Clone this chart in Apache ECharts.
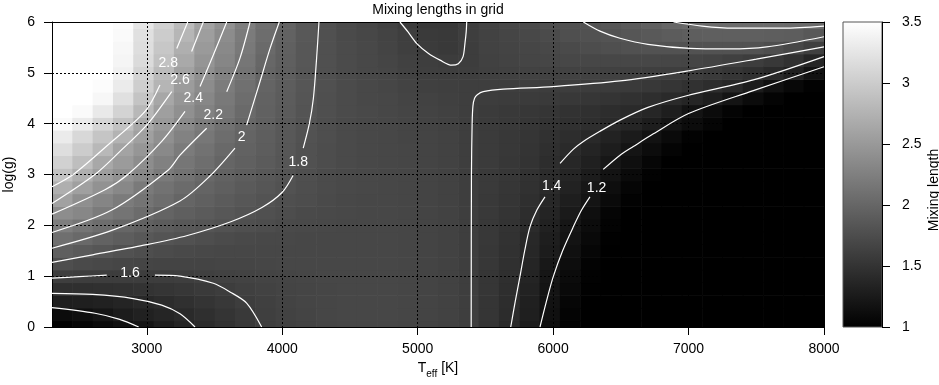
<!DOCTYPE html>
<html>
<head>
<meta charset="utf-8">
<script src="https://cdn.jsdelivr.net/npm/echarts@6/dist/echarts.min.js"></script>
<style>
  html, body { margin: 0; padding: 0; background: #fff; }
  #chart { width: 939px; height: 385px; }
</style>
</head>
<body>
<div id="chart"></div>
<script>
// cell centres of the mixing length grid
const teff = [2375, 2525, 2675, 2825, 2975, 3125, 3275, 3425, 3575, 3725, 3875, 4025, 4175,
  4325, 4475, 4625, 4775, 4925, 5075, 5225, 5375, 5525, 5675, 5825, 5975, 6125, 6275,
  6425, 6575, 6725, 6875, 7025, 7175, 7325, 7475, 7625, 7775, 7925]
const logg = [0, 0.25, 0.5, 0.75, 1, 1.25, 1.5, 1.75, 2, 2.25, 2.5, 2.75, 3,
  3.25, 3.5, 3.75, 4, 4.25, 4.5, 4.75, 5, 5.25, 5.5, 5.75, 6]

// mixing length per row of log g
const g000 = [1.02, 1.06, 1.11, 1.16, 1.21, 1.29, 1.36, 1.43, 1.49, 1.55, 1.61, 1.64, 1.66, 1.68, 1.69, 1.69, 1.69, 1.68, 1.66, 1.64, 1.61, 1.51, 1.41, 1.27, 1.14, 1.02, 1.0, 1.0, 1.0, 1.0, 1.0, 1.0, 1.0, 1.0, 1.0, 1.0, 1.0, 1.0]
const g025 = [1.12, 1.15, 1.21, 1.27, 1.32, 1.36, 1.41, 1.46, 1.51, 1.56, 1.62, 1.65, 1.67, 1.69, 1.70, 1.70, 1.70, 1.69, 1.67, 1.65, 1.61, 1.52, 1.43, 1.30, 1.16, 1.04, 1.0, 1.0, 1.0, 1.0, 1.0, 1.0, 1.0, 1.0, 1.0, 1.0, 1.0, 1.0]
const g050 = [1.29, 1.30, 1.32, 1.35, 1.39, 1.43, 1.47, 1.51, 1.55, 1.60, 1.63, 1.66, 1.68, 1.69, 1.70, 1.70, 1.70, 1.69, 1.67, 1.65, 1.61, 1.52, 1.44, 1.31, 1.18, 1.06, 1.0, 1.0, 1.0, 1.0, 1.0, 1.0, 1.0, 1.0, 1.0, 1.0, 1.0, 1.0]
const g075 = [1.46, 1.46, 1.47, 1.48, 1.50, 1.52, 1.54, 1.57, 1.60, 1.63, 1.65, 1.67, 1.68, 1.69, 1.70, 1.70, 1.70, 1.69, 1.67, 1.65, 1.61, 1.53, 1.45, 1.33, 1.20, 1.09, 1.01, 1.0, 1.0, 1.0, 1.0, 1.0, 1.0, 1.0, 1.0, 1.0, 1.0, 1.0]
const g100 = [1.61, 1.60, 1.60, 1.60, 1.60, 1.60, 1.61, 1.63, 1.65, 1.66, 1.67, 1.68, 1.69, 1.70, 1.70, 1.70, 1.70, 1.69, 1.67, 1.65, 1.61, 1.53, 1.46, 1.35, 1.22, 1.11, 1.02, 1.0, 1.0, 1.0, 1.0, 1.0, 1.0, 1.0, 1.0, 1.0, 1.0, 1.0]
const g125 = [1.76, 1.73, 1.71, 1.69, 1.68, 1.67, 1.67, 1.67, 1.68, 1.68, 1.69, 1.70, 1.70, 1.70, 1.70, 1.70, 1.70, 1.69, 1.67, 1.65, 1.61, 1.54, 1.47, 1.36, 1.24, 1.13, 1.03, 1.0, 1.0, 1.0, 1.0, 1.0, 1.0, 1.0, 1.0, 1.0, 1.0, 1.0]
const g150 = [1.93, 1.88, 1.84, 1.79, 1.76, 1.74, 1.72, 1.71, 1.70, 1.70, 1.70, 1.70, 1.70, 1.70, 1.70, 1.70, 1.70, 1.69, 1.67, 1.65, 1.61, 1.54, 1.48, 1.38, 1.27, 1.16, 1.06, 1.0, 1.0, 1.0, 1.0, 1.0, 1.0, 1.0, 1.0, 1.0, 1.0, 1.0]
const g175 = [2.09, 2.03, 1.96, 1.91, 1.86, 1.82, 1.79, 1.76, 1.74, 1.72, 1.71, 1.71, 1.70, 1.70, 1.70, 1.70, 1.70, 1.69, 1.67, 1.65, 1.61, 1.55, 1.49, 1.39, 1.29, 1.19, 1.09, 1.01, 1.0, 1.0, 1.0, 1.0, 1.0, 1.0, 1.0, 1.0, 1.0, 1.0]
const g200 = [2.24, 2.15, 2.07, 2.00, 1.95, 1.90, 1.86, 1.83, 1.80, 1.77, 1.75, 1.73, 1.72, 1.71, 1.70, 1.70, 1.70, 1.69, 1.67, 1.65, 1.61, 1.55, 1.50, 1.42, 1.32, 1.22, 1.12, 1.03, 1.0, 1.0, 1.0, 1.0, 1.0, 1.0, 1.0, 1.0, 1.0, 1.0]
const g225 = [2.38, 2.32, 2.21, 2.14, 2.06, 1.98, 1.93, 1.89, 1.85, 1.81, 1.78, 1.75, 1.73, 1.72, 1.71, 1.70, 1.70, 1.69, 1.67, 1.65, 1.61, 1.56, 1.51, 1.44, 1.35, 1.25, 1.15, 1.05, 1.0, 1.0, 1.0, 1.0, 1.0, 1.0, 1.0, 1.0, 1.0, 1.0]
const g250 = [2.58, 2.40, 2.30, 2.21, 2.14, 2.07, 1.99, 1.94, 1.89, 1.85, 1.81, 1.77, 1.75, 1.73, 1.71, 1.70, 1.70, 1.69, 1.67, 1.65, 1.61, 1.56, 1.52, 1.46, 1.38, 1.29, 1.20, 1.10, 1.02, 1.0, 1.0, 1.0, 1.0, 1.0, 1.0, 1.0, 1.0, 1.0]
const g275 = [2.72, 2.57, 2.43, 2.33, 2.20, 2.12, 2.05, 1.98, 1.93, 1.88, 1.84, 1.80, 1.76, 1.74, 1.72, 1.71, 1.70, 1.69, 1.67, 1.65, 1.61, 1.57, 1.53, 1.48, 1.41, 1.33, 1.23, 1.14, 1.05, 1.0, 1.0, 1.0, 1.0, 1.0, 1.0, 1.0, 1.0, 1.0]
const g300 = [2.90, 2.72, 2.55, 2.43, 2.33, 2.20, 2.12, 2.03, 1.96, 1.91, 1.86, 1.82, 1.77, 1.74, 1.72, 1.71, 1.70, 1.69, 1.67, 1.65, 1.61, 1.57, 1.54, 1.49, 1.43, 1.36, 1.27, 1.19, 1.10, 1.02, 1.0, 1.0, 1.0, 1.0, 1.0, 1.0, 1.0, 1.0]
const g325 = [3.05, 2.86, 2.65, 2.52, 2.38, 2.26, 2.16, 2.08, 1.99, 1.94, 1.89, 1.84, 1.79, 1.75, 1.73, 1.71, 1.70, 1.69, 1.67, 1.65, 1.61, 1.58, 1.54, 1.50, 1.44, 1.38, 1.31, 1.23, 1.15, 1.06, 1.0, 1.0, 1.0, 1.0, 1.0, 1.0, 1.0, 1.0]
const g350 = [3.18, 3.00, 2.80, 2.60, 2.47, 2.34, 2.21, 2.12, 2.03, 1.96, 1.91, 1.85, 1.79, 1.75, 1.73, 1.71, 1.70, 1.69, 1.67, 1.65, 1.61, 1.58, 1.55, 1.51, 1.46, 1.41, 1.35, 1.28, 1.20, 1.12, 1.04, 1.0, 1.0, 1.0, 1.0, 1.0, 1.0, 1.0]
const g375 = [3.30, 3.12, 2.93, 2.75, 2.57, 2.41, 2.27, 2.17, 2.07, 1.98, 1.92, 1.86, 1.80, 1.76, 1.73, 1.71, 1.70, 1.68, 1.67, 1.65, 1.61, 1.58, 1.55, 1.52, 1.48, 1.44, 1.40, 1.33, 1.26, 1.18, 1.10, 1.02, 1.0, 1.0, 1.0, 1.0, 1.0, 1.0]
const g400 = [3.45, 3.30, 3.10, 2.90, 2.66, 2.50, 2.34, 2.22, 2.11, 2.01, 1.94, 1.87, 1.81, 1.76, 1.73, 1.71, 1.70, 1.68, 1.66, 1.64, 1.61, 1.58, 1.56, 1.53, 1.50, 1.47, 1.45, 1.41, 1.36, 1.28, 1.20, 1.12, 1.05, 1.0, 1.0, 1.0, 1.0, 1.0]
const g425 = [3.50, 3.45, 3.28, 3.07, 2.80, 2.56, 2.41, 2.27, 2.16, 2.04, 1.95, 1.89, 1.82, 1.77, 1.74, 1.72, 1.70, 1.68, 1.66, 1.64, 1.61, 1.58, 1.56, 1.54, 1.52, 1.49, 1.47, 1.44, 1.41, 1.37, 1.29, 1.19, 1.11, 1.04, 1.0, 1.0, 1.0, 1.0]
const g450 = [3.50, 3.50, 3.42, 3.20, 2.92, 2.64, 2.47, 2.32, 2.19, 2.07, 1.96, 1.90, 1.83, 1.77, 1.74, 1.71, 1.70, 1.67, 1.65, 1.63, 1.61, 1.60, 1.59, 1.58, 1.57, 1.55, 1.53, 1.51, 1.48, 1.45, 1.41, 1.36, 1.29, 1.20, 1.11, 1.04, 1.0, 1.0]
const g475 = [3.50, 3.50, 3.47, 3.30, 3.02, 2.77, 2.53, 2.37, 2.22, 2.10, 1.98, 1.91, 1.84, 1.78, 1.74, 1.71, 1.69, 1.66, 1.63, 1.62, 1.61, 1.61, 1.61, 1.61, 1.60, 1.60, 1.59, 1.58, 1.57, 1.55, 1.52, 1.48, 1.44, 1.39, 1.27, 1.16, 1.08, 1.02]
const g500 = [3.50, 3.50, 3.50, 3.36, 3.08, 2.83, 2.59, 2.41, 2.26, 2.13, 1.99, 1.92, 1.84, 1.78, 1.74, 1.71, 1.69, 1.65, 1.62, 1.61, 1.61, 1.63, 1.64, 1.65, 1.65, 1.65, 1.65, 1.64, 1.63, 1.62, 1.61, 1.60, 1.57, 1.52, 1.47, 1.41, 1.31, 1.17]
const g525 = [3.50, 3.50, 3.50, 3.40, 3.15, 2.90, 2.66, 2.46, 2.31, 2.16, 2.01, 1.93, 1.85, 1.78, 1.74, 1.71, 1.68, 1.64, 1.61, 1.59, 1.60, 1.64, 1.66, 1.68, 1.69, 1.70, 1.70, 1.70, 1.70, 1.70, 1.69, 1.68, 1.66, 1.63, 1.60, 1.55, 1.48, 1.36]
const g550 = [3.50, 3.50, 3.50, 3.42, 3.18, 2.95, 2.72, 2.51, 2.34, 2.19, 2.04, 1.94, 1.85, 1.78, 1.74, 1.71, 1.67, 1.62, 1.58, 1.56, 1.60, 1.65, 1.67, 1.69, 1.71, 1.73, 1.75, 1.77, 1.79, 1.80, 1.80, 1.80, 1.80, 1.80, 1.80, 1.76, 1.70, 1.62]
const g575 = [3.50, 3.50, 3.50, 3.45, 3.20, 3.00, 2.78, 2.55, 2.37, 2.21, 2.07, 1.96, 1.86, 1.78, 1.73, 1.70, 1.66, 1.61, 1.57, 1.56, 1.61, 1.65, 1.68, 1.71, 1.74, 1.77, 1.79, 1.81, 1.84, 1.87, 1.90, 1.92, 1.93, 1.93, 1.93, 1.92, 1.91, 1.86]
const g600 = [3.50, 3.50, 3.50, 3.47, 3.25, 3.05, 2.83, 2.59, 2.42, 2.24, 2.09, 1.97, 1.86, 1.78, 1.73, 1.69, 1.64, 1.58, 1.55, 1.55, 1.61, 1.66, 1.70, 1.73, 1.76, 1.78, 1.81, 1.84, 1.88, 1.94, 2.00, 2.03, 2.04, 2.05, 2.05, 2.05, 2.04, 2.03]
const rows = [g000, g025, g050, g075, g100, g125, g150, g175, g200, g225, g250, g275, g300,
  g325, g350, g375, g400, g425, g450, g475, g500, g525, g550, g575, g600]

// contour lines [Teff, log g], split where a label sits
const c28a = [[2300, 2.76], [2457, 3.0], [2700, 3.55], [2987, 4.24], [3097, 4.76]]
const c28b = [[3221, 5.48], [3302, 6]]
const c26a = [[2300, 2.43], [2617, 3.0], [2800, 3.45], [2999, 3.97], [3184, 4.63]]
const c26b = [[3331, 5.42], [3417, 6]]
const c24a = [[2300, 2.22], [2691, 2.7], [2860, 3.0], [3110, 3.65], [3282, 4.24]]
const c24b = [[3393, 4.73], [3491, 5.35], [3590, 6]]
const c22a = [[2300, 1.86], [2741, 2.30], [3159, 3.09], [3245, 3.38], [3442, 3.91]]
const c22b = [[3590, 4.63], [3688, 5.29], [3762, 6]]
const c20a = [[2300, 1.55], [2741, 1.9], [3245, 2.48], [3466, 2.97], [3651, 3.52]]
const c20b = [[3737, 3.97], [3836, 4.83], [3910, 5.48], [3978, 6]]
const c18a = [[2300, 1.27], [2600, 1.42], [3000, 1.62], [3300, 1.8], [3620, 2.07], [3850, 2.35], [4000, 2.65], [4080, 2.98]]
const c18b = [[4155, 3.52], [4200, 4.0], [4230, 4.5], [4254, 5.3], [4271, 6]]
const c16a = [[2300, 0.96], [2500, 0.99], [2704, 1.02]]
const c16b = [[3060, 1.02], [3245, 1.0], [3491, 0.86], [3614, 0.69], [3737, 0.47], [3848, 0]]
const c14a = [[2300, 0.66], [2600, 0.64], [2900, 0.56], [3110, 0.43], [3245, 0.26], [3356, 0]]
const c12a = [[2300, 0.38], [2617, 0.27], [2800, 0.15], [2940, 0]]
const c16u = [[4869, 6], [4930, 5.8], [4992, 5.58], [5080, 5.38], [5165, 5.25], [5251, 5.15], [5300, 5.18], [5335, 5.32], [5349, 5.58], [5358, 5.8], [5362, 6]]
const c16v = [[5395, 0], [5397, 3], [5402, 4.0], [5408, 4.35], [5420, 4.5], [5440, 4.57], [5484, 4.63], [5632, 4.68], [6001, 4.73], [6494, 4.84], [7000, 5.04], [7500, 5.27], [8000, 5.51]]
const c18r = [[6223, 6], [6346, 5.82], [6494, 5.68], [6700, 5.56], [7011, 5.48], [7300, 5.47], [7577, 5.51], [8000, 5.71]]
const c20r = [[6889, 6], [7100, 5.92], [7332, 5.88], [7700, 5.88], [8000, 5.92]]
const c14ra = [[5687, 0], [5720, 0.5], [5755, 0.99], [5790, 1.5], [5829, 1.97], [5880, 2.3], [5940, 2.56]]
const c14rb = [[6051, 3.22], [6150, 3.5], [6223, 3.65], [6346, 3.85], [6494, 4.07], [6700, 4.32], [6986, 4.55], [7478, 4.86], [8000, 5.32]]
const c12ra = [[5903, 0], [5950, 0.5], [6001, 0.99], [6070, 1.5], [6149, 1.97], [6210, 2.3], [6272, 2.56]]
const c12rb = [[6370, 3.1], [6494, 3.38], [6592, 3.55], [6740, 3.8], [7000, 4.2], [7478, 4.65], [8000, 5.12]]
const contours = [c28a, c28b, c26a, c26b, c24a, c24b, c22a, c22b, c20a, c20b, c18a, c18b,
  c16a, c16b, c14a, c12a, c16u, c16v, c18r, c20r, c14ra, c14rb, c12ra, c12rb]

// contour labels
const labelText = ['2.8', '2.6', '2.4', '2.2', '2', '1.8', '1.6', '1.4', '1.2']
const labelT = [3158, 3245, 3343, 3491, 3700, 4118, 2876, 5989, 6321]
const labelG = [5.19, 4.86, 4.50, 4.17, 3.74, 3.25, 1.06, 2.77, 2.73]

const xTicks = [3000, 4000, 5000, 6000, 7000, 8000]
const cbMin = 1
const cbMax = 3.5

const font = 'Liberation Sans, Arial, Helvetica, sans-serif'
const cellW = teff[1] - teff[0]
const cellH = logg[1] - logg[0]

const cells = []
rows.forEach((row, j) => {
  row.forEach((v, i) => cells.push([teff[i], logg[j], v]))
})

const chart = echarts.init(document.getElementById('chart'), null, { renderer: 'canvas' })

const series = [
  {
    type: 'custom',
    xAxisIndex: 0,
    yAxisIndex: 0,
    data: cells,
    clip: true,
    silent: true,
    z: 2,
    encode: { x: 0, y: 1 },
    renderItem(params, api) {
      const t = api.value(0)
      const g = api.value(1)
      const a = api.coord([t - cellW / 2, g + cellH / 2])
      const b = api.coord([t + cellW / 2, g - cellH / 2])
      return {
        type: 'rect',
        shape: { x: a[0], y: a[1], width: b[0] - a[0] + 0.6, height: b[1] - a[1] + 0.6 },
        style: { fill: api.visual('color') }
      }
    }
  },
  {
    type: 'custom',
    xAxisIndex: 2,
    yAxisIndex: 2,
    data: [[0, cbMin, 1, cbMax]],
    silent: true,
    encode: { x: [0, 2], y: [1, 3] },
    renderItem(params, api) {
      const a = api.coord([api.value(0), api.value(3)])
      const b = api.coord([api.value(2), api.value(1)])
      return {
        type: 'rect',
        shape: { x: a[0], y: a[1], width: b[0] - a[0], height: b[1] - a[1] },
        style: {
          fill: new echarts.graphic.LinearGradient(0, 0, 0, 1, [
            { offset: 0, color: '#ffffff' },
            { offset: 1, color: '#000000' }
          ]),
          stroke: '#555',
          lineWidth: 1
        }
      }
    }
  }
]

contours.forEach(seg => {
  series.push({
    type: 'line',
    xAxisIndex: 0,
    yAxisIndex: 0,
    data: seg,
    symbol: 'none',
    smooth: 0.3,
    silent: true,
    z: 5,
    lineStyle: { color: '#ffffff', width: 1.2 }
  })
})

series.push({
  type: 'scatter',
  xAxisIndex: 0,
  yAxisIndex: 0,
  symbol: 'circle',
  symbolSize: 0,
  silent: true,
  z: 6,
  itemStyle: { color: 'transparent' },
  data: labelT.map((t, i) => [t, labelG[i]]),
  label: {
    show: true,
    position: 'inside',
    formatter: p => labelText[p.dataIndex],
    color: '#ffffff',
    textBorderWidth: 0,
    opacity: 1,
    fontSize: 14,
    fontFamily: font
  }
})

const axisText = { color: '#000', fontSize: 14, fontFamily: font }

chart.setOption({
  animation: false,
  textStyle: { fontFamily: font },
  grid: [
    { left: 52, top: 22, width: 772, height: 305, outerBoundsMode: 'none' },
    { left: 843, top: 22, width: 39, height: 305, outerBoundsMode: 'none' }
  ],
  visualMap: {
    type: 'continuous',
    show: false,
    min: cbMin,
    max: cbMax,
    dimension: 2,
    seriesIndex: 0,
    inRange: { color: ['#000000', '#ffffff'] }
  },
  xAxis: [
    {
      gridIndex: 0,
      type: 'value',
      min: 2300,
      max: 8000,
      position: 'bottom',
      z: 4,
      axisLine: { onZero: false, lineStyle: { color: '#000', width: 1 } },
      axisTick: { customValues: xTicks, length: 8, lineStyle: { color: '#000' } },
      axisLabel: { customValues: xTicks, margin: 15, formatter: v => String(v), ...axisText },
      splitLine: { show: true, lineStyle: { color: '#000', type: [2, 2], width: 1 } },
      name: '{a|T}{s|eff}{a| [K]}',
      nameLocation: 'middle',
      nameGap: 34,
      nameTextStyle: {
        rich: {
          a: { fontSize: 14, color: '#000', fontFamily: font, lineHeight: 18, verticalAlign: 'top' },
          s: { fontSize: 10, color: '#000', fontFamily: font, lineHeight: 10, verticalAlign: 'bottom' }
        }
      }
    },
    {
      gridIndex: 0,
      type: 'value',
      min: 2300,
      max: 8000,
      position: 'top',
      z: 4,
      axisLine: { onZero: false, lineStyle: { color: '#000', width: 1 } },
      axisTick: { show: false },
      axisLabel: { show: false },
      splitLine: { show: false },
      name: 'Mixing lengths in grid',
      nameLocation: 'middle',
      nameGap: 5,
      nameTextStyle: axisText
    },
    { gridIndex: 1, type: 'value', min: 0, max: 1, show: false }
  ],
  yAxis: [
    {
      gridIndex: 0,
      type: 'value',
      min: 0,
      max: 6,
      interval: 1,
      position: 'left',
      z: 4,
      axisLine: { onZero: false, lineStyle: { color: '#000', width: 1 } },
      axisTick: { length: 8, lineStyle: { color: '#000' } },
      axisLabel: { margin: 17, ...axisText },
      splitLine: { show: true, lineStyle: { color: '#000', type: [2, 2], width: 1 } },
      name: 'log(g)',
      nameLocation: 'middle',
      nameRotate: 90,
      nameGap: 33,
      nameTextStyle: axisText
    },
    {
      gridIndex: 0,
      type: 'value',
      min: 0,
      max: 6,
      position: 'right',
      z: 4,
      axisLine: { show: true, onZero: false, lineStyle: { color: '#000', width: 1 } },
      axisTick: { show: false },
      axisLabel: { show: false },
      splitLine: { show: false }
    },
    {
      gridIndex: 1,
      type: 'value',
      min: cbMin,
      max: cbMax,
      interval: 0.5,
      position: 'right',
      z: 4,
      axisLine: { show: true, onZero: false, lineStyle: { color: '#000', width: 1 } },
      axisTick: { length: 8, lineStyle: { color: '#000' } },
      axisLabel: { margin: 20, ...axisText },
      splitLine: { show: false },
      name: 'Mixing length',
      nameLocation: 'middle',
      nameRotate: 90,
      nameGap: 45,
      nameTextStyle: { ...axisText, padding: [0, 31, 0, 0] }
    }
  ],
  series
})
</script>
</body>
</html>
